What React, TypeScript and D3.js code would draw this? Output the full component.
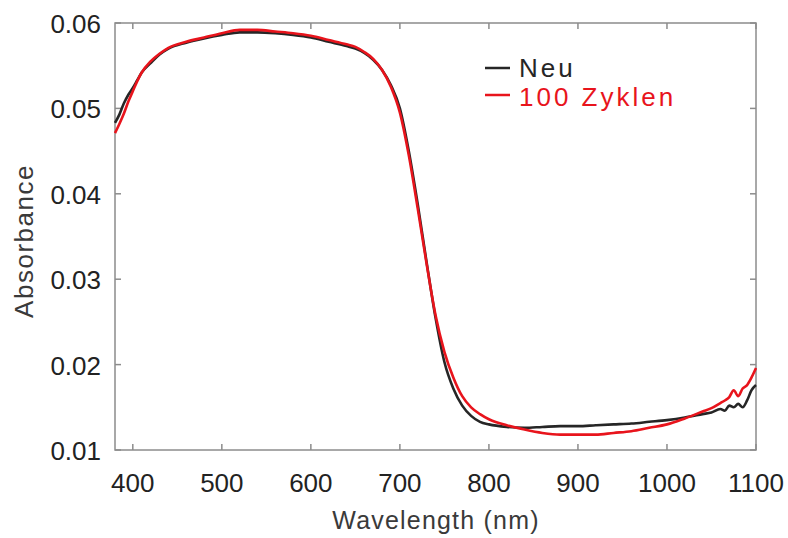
import React, { useEffect } from "react";
import * as d3 from "d3";

// wavelengths (nm) shared by both spectra
const wavelengths = [
  380, 385, 390, 395, 400, 405, 410, 420, 430, 440, 460, 480, 500, 520, 540,
  560, 580, 600, 620, 640, 650, 660, 670, 680, 690, 700, 710, 720, 730, 740,
  750, 760, 770, 780, 790, 800, 820, 840, 860, 880, 900, 920, 940, 960, 980,
  1000, 1020, 1040, 1050, 1060, 1065, 1070, 1075, 1080, 1085, 1090, 1095, 1100,
];

const neu = [
  0.0483, 0.0493, 0.0506, 0.0516, 0.0524, 0.0533, 0.0542, 0.0553, 0.0563,
  0.057, 0.0577, 0.0582, 0.0586, 0.0589, 0.0589, 0.0588, 0.0586, 0.0583,
  0.0578, 0.0573, 0.057, 0.0565, 0.0557, 0.0545, 0.0527, 0.05, 0.045, 0.0388,
  0.032, 0.0255, 0.0203, 0.0172, 0.0152, 0.014, 0.0133, 0.013, 0.0127, 0.0126,
  0.0127, 0.0128, 0.0128, 0.0129, 0.013, 0.0131, 0.0133, 0.0135, 0.0138,
  0.0142, 0.0144, 0.0148, 0.0146, 0.0152, 0.015, 0.0154, 0.015, 0.0158,
  0.017, 0.0176,
];

const zyklen100 = [
  0.0471, 0.0482, 0.0494, 0.0508, 0.052, 0.0532, 0.0542, 0.0555, 0.0564,
  0.0571, 0.0578, 0.0583, 0.0588, 0.0592, 0.0592, 0.059, 0.0588, 0.0585,
  0.058, 0.0575, 0.0572, 0.0566, 0.0558, 0.0545, 0.0525, 0.0495, 0.0445,
  0.0383, 0.0318, 0.0258, 0.0215, 0.0185, 0.0163, 0.015, 0.0142, 0.0136,
  0.0129, 0.0124, 0.012, 0.0118, 0.0118, 0.0118, 0.012, 0.0122, 0.0126,
  0.013, 0.0137, 0.0145, 0.0149, 0.0155, 0.0158, 0.0162, 0.017, 0.0163,
  0.0172, 0.0176, 0.0185, 0.0196,
];

const xTicks = [400, 500, 600, 700, 800, 900, 1000, 1100];
const yTicks = [0.01, 0.02, 0.03, 0.04, 0.05, 0.06];

const seriesNames = ["Neu", "100 Zyklen"];
const seriesColors = ["#262626", "#e8141c"];

const W = 788;
const H = 538;
const left = 115;
const right = 756;
const top = 23;
const bottom = 450;

const App = () => {
  useEffect(() => {
    document.body.style.margin = "0";
  }, []);

  const x = d3.scaleLinear().domain([380, 1100]).range([left, right]);
  const y = d3.scaleLinear().domain([0.01, 0.06]).range([bottom, top]);

  const line = d3
    .line<number>()
    .x((_, i) => x(wavelengths[i]))
    .y((d) => y(d))
    .curve(d3.curveMonotoneX);

  const series = [neu, zyklen100];
  const axisColor = "#8c8c8c";
  const font = "Arial, 'Liberation Sans', sans-serif";

  return (
    <svg width={W} height={H} style={{ display: "block" }} fontFamily={font}>
      <rect width={W} height={H} fill="#fff" />
      {/* frame */}
      <rect
        x={left}
        y={top}
        width={right - left}
        height={bottom - top}
        fill="none"
        stroke={axisColor}
        strokeWidth={1.5}
      />
      {xTicks.map((t) => (
        <g key={"x" + t}>
          <line x1={x(t)} x2={x(t)} y1={bottom} y2={bottom - 6} stroke={axisColor} strokeWidth={1.5} />
          <line x1={x(t)} x2={x(t)} y1={top} y2={top + 6} stroke={axisColor} strokeWidth={1.5} />
          <text x={x(t)} y={bottom + 42} textAnchor="middle" fontSize={26} fill="#222">
            {t}
          </text>
        </g>
      ))}
      {yTicks.map((t) => (
        <g key={"y" + t}>
          <line x1={left} x2={left + 6} y1={y(t)} y2={y(t)} stroke={axisColor} strokeWidth={1.5} />
          <line x1={right} x2={right - 6} y1={y(t)} y2={y(t)} stroke={axisColor} strokeWidth={1.5} />
          <text x={101} y={y(t) + 10} textAnchor="end" fontSize={26} fill="#222">
            {d3.format(".2f")(t)}
          </text>
        </g>
      ))}
      <text x={436} y={529} textAnchor="middle" fontSize={25} letterSpacing={1.2} fill="#3a3a3a">
        Wavelength (nm)
      </text>
      <text
        transform="translate(33,241) rotate(-90)"
        textAnchor="middle"
        fontSize={26}
        letterSpacing={1.5}
        fill="#3a3a3a"
      >
        Absorbance
      </text>
      {series.map((s, i) => (
        <path
          key={seriesNames[i]}
          d={line(s) || ""}
          fill="none"
          stroke={seriesColors[i]}
          strokeWidth={2.6}
          strokeLinejoin="round"
        />
      ))}
      {seriesNames.map((n, i) => (
        <g key={"leg" + n}>
          <line x1={485} x2={510} y1={68 + i * 27} y2={68 + i * 27} stroke={seriesColors[i]} strokeWidth={2.5} />
          <text x={519} y={77 + i * 29} fontSize={26} letterSpacing={3} fill={seriesColors[i]}>
            {n}
          </text>
        </g>
      ))}
    </svg>
  );
};

export default App;
